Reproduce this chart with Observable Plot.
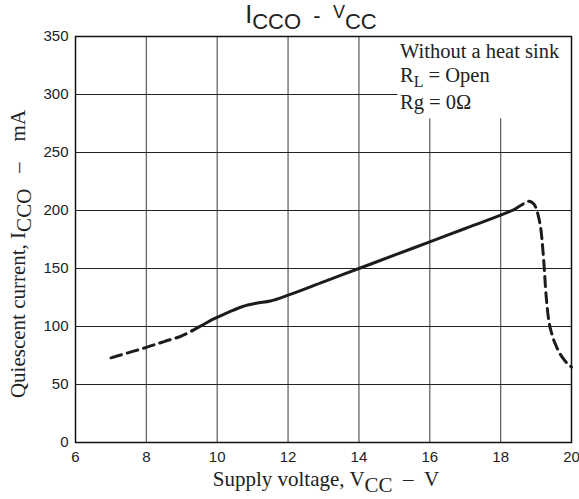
<!DOCTYPE html>
<html><head><meta charset="utf-8">
<script src="https://cdn.jsdelivr.net/npm/d3@7"></script>
<script src="https://cdn.jsdelivr.net/npm/@observablehq/plot@0.6"></script>
<style>body{margin:0;background:#fff}</style>
</head><body><div id="chart"></div>
<script>
// ---- data ----
const xTicks = [6, 8, 10, 12, 14, 16, 18, 20];
const yTicks = [0, 50, 100, 150, 200, 250, 300, 350];

// dashed low-voltage segment (V, mA)
const leftDashV = [7.0, 7.5, 8.0, 8.5, 9.0, 9.3];
const leftDashI = [73, 77.5, 82, 87, 92, 96.5];

// solid segment
const solidV = [9.3, 9.6, 9.9, 10.3, 10.7, 11.1, 11.5, 12, 13, 14, 15, 16, 17, 18, 18.4];
const solidI = [96.5, 101.5, 106.5, 112, 117, 120, 122, 127, 138.5, 150, 161.5, 173, 184.5, 196, 201];

// dashed high-voltage segment
const rightDashV = [18.4, 18.6, 18.8, 18.95, 19.05, 19.15, 19.22, 19.28, 19.35, 19.45, 19.6, 19.8, 20.0];
const rightDashI = [201, 205, 208, 205, 197, 180, 155, 128, 107, 93, 81, 71, 65];

// legend-box extent (data units)
const noteBoxV = [15.1, 20];
const noteBoxI = [279, 350];

const rows = (vs, is) => vs.map((v, k) => ({v, i: is[k]}));

const lineStyle = {x: "v", y: "i", stroke: "#1c1c1c", strokeWidth: 3, curve: "monotone-x"};

const plot = Plot.plot({
  width: 579, height: 499,
  marginTop: 36, marginBottom: 57, marginLeft: 75, marginRight: 8,
  style: {fontFamily: "'Liberation Sans', Arial, sans-serif", fontSize: "15px", color: "#222", background: "#fff", overflow: "visible"},
  x: {domain: [6, 20], label: null},
  y: {domain: [0, 350], label: null},
  marks: [
    Plot.gridX(xTicks.slice(1, -1), {stroke: "#666", strokeOpacity: 1, strokeWidth: 1.3}),
    Plot.gridY(yTicks.slice(1, -1), {stroke: "#222", strokeOpacity: 1, strokeWidth: 1}),
    Plot.rect([{}], {x1: () => noteBoxV[0], x2: () => noteBoxV[1], y1: () => noteBoxI[0], y2: () => noteBoxI[1], fill: "white"}),
    Plot.line(rows(leftDashV, leftDashI), {...lineStyle, strokeDasharray: "11,6"}),
    Plot.line(rows(solidV, solidI), lineStyle),
    Plot.line(rows(rightDashV, rightDashI), {...lineStyle, strokeDasharray: "10,6"}),
    Plot.frame({stroke: "#111", strokeWidth: 1.5}),
    Plot.axisX(xTicks, {tickSize: 0, tickPadding: 9, fontSize: 15}),
    Plot.axisY(yTicks, {tickSize: 0, tickPadding: 7, fontSize: 15})
  ]
});
document.getElementById("chart").append(plot);

// ---- text with subscripts ----
const svg = d3.select(plot);
const serif = "'Liberation Serif', 'Times New Roman', serif";
const sans = "'Liberation Sans', Arial, sans-serif";

// Title
const t = svg.append("text").attr("x", 311).attr("y", 23).attr("text-anchor", "middle")
  .attr("font-family", sans).attr("fill", "#222").style("white-space", "pre");
t.append("tspan").attr("font-size", 25).text("I");
t.append("tspan").attr("dy", 6).attr("font-size", 22).text("CCO");
t.append("tspan").attr("dy", -6).attr("font-size", 22).text("  -  ");
t.append("tspan").attr("dy", -5).attr("font-size", 18).text("V");
t.append("tspan").attr("dy", 11).attr("font-size", 22).text("CC");

// Note box
const nx = 400;
const noteText = (y) => svg.append("text").attr("x", nx).attr("y", y).attr("text-anchor", "start")
  .attr("font-family", serif).attr("font-size", 20.5).attr("fill", "#222");
noteText(58).text("Without a heat sink");
const n2 = noteText(82);
n2.append("tspan").text("R");
n2.append("tspan").attr("dy", 5).attr("font-size", 16).text("L");
n2.append("tspan").attr("dy", -5).text(" = Open");
noteText(109).text("Rg = 0Ω");

// Y label
const yl = svg.append("text").attr("transform", "translate(25,254) rotate(-90)")
  .attr("text-anchor", "middle").attr("font-family", serif).attr("font-size", 21).attr("fill", "#222");
yl.append("tspan").text("Quiescent current, I");
yl.append("tspan").attr("dy", 6).text("CCO");
yl.append("tspan").attr("dy", -6).text("\u00A0\u00A0\u00A0\u2013\u00A0\u00A0\u00A0 mA");

// X label
const xl = svg.append("text").attr("x", 326).attr("y", 486)
  .attr("text-anchor", "middle").attr("font-family", serif).attr("font-size", 21).attr("fill", "#222");
xl.append("tspan").text("Supply voltage, V");
xl.append("tspan").attr("dy", 6).text("CC");
xl.append("tspan").attr("dy", -6).text("\u00A0\u00A0\u2013\u00A0\u00A0V");
</script>
</body></html>
